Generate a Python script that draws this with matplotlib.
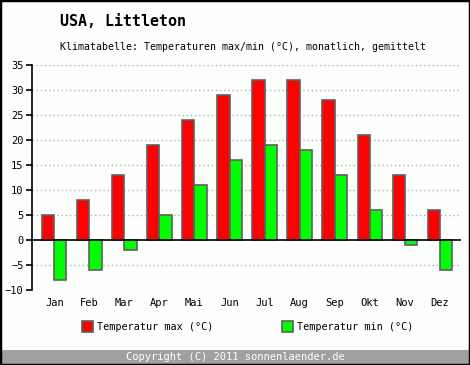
import numpy as np
import matplotlib.pyplot as plt
from matplotlib.patches import Rectangle

months = ['Jan', 'Feb', 'Mar', 'Apr', 'Mai', 'Jun', 'Jul', 'Aug', 'Sep', 'Okt', 'Nov', 'Dez']
temp_max = [5, 8, 13, 19, 24, 29, 32, 32, 28, 21, 13, 6]
temp_min = [-8, -6, -2, 5, 11, 16, 19, 18, 13, 6, -1, -6]
yticks = [-10, -5, 0, 5, 10, 15, 20, 25, 30, 35]

W, H = 470, 365
bg = '#fcfefc'
mono = 'DejaVu Sans Mono'

fig = plt.figure(figsize=(W / 100, H / 100), dpi=100, facecolor=bg)
ax = fig.add_axes([32 / W, 75 / H, (461 - 32) / W, 225 / H])
ax.set_facecolor(bg)

x = np.arange(len(months))
bw = 0.345
ax.bar(x - bw / 2, temp_max, bw, color='#ff0000', edgecolor='#606060', linewidth=1.2, zorder=3)
ax.bar(x + bw / 2, temp_min, bw, color='#00ff00', edgecolor='#606060', linewidth=1.2, zorder=3)

# dotted grid, not at 0 and not at the bottom
for yv in yticks:
    if yv not in (0, -10):
        ax.axhline(yv, color='#b0b0b0', linestyle=(0, (1, 2)), linewidth=1, zorder=1)
ax.axhline(0, color='black', linewidth=1.2, zorder=4)

ax.set_xlim(-0.64, 11.61)
ax.set_ylim(-10, 35)
ax.set_yticks(yticks)
ax.set_xticks(x)
ax.set_xticklabels(months)
for s in ['top', 'right', 'bottom']:
    ax.spines[s].set_visible(False)
ax.spines['left'].set_linewidth(1.2)
ax.tick_params(axis='y', length=4, width=1.2, pad=2, labelsize=7.5)
ax.tick_params(axis='x', length=0, pad=6, labelsize=7.5)
for lab in ax.get_xticklabels() + ax.get_yticklabels():
    lab.set_family(mono)

fig.text(60 / W, 1 - 21 / H, 'USA, Littleton', fontsize=10.8, fontweight='bold',
         family=mono, va='center', ha='left')
fig.text(60 / W, 1 - 47 / H, 'Klimatabelle: Temperaturen max/min (°C), monatlich, gemittelt',
         fontsize=7.1, family=mono, va='center', ha='left')

# legend
for x0, col, lab in [(82, '#ff0000', 'Temperatur max (°C)'), (282, '#00ff00', 'Temperatur min (°C)')]:
    fig.patches.append(Rectangle((x0 / W, 1 - 332 / H), 11 / W, 11 / H, transform=fig.transFigure,
                                 facecolor=col, edgecolor='#606060', linewidth=1.2))
    fig.text((x0 + 15) / W, 1 - 327 / H, lab, fontsize=7.3, family=mono, va='center', ha='left')

# footer
fig.patches.append(Rectangle((0, 1 / H), 1, 14 / H, transform=fig.transFigure,
                             facecolor='#a0a0a0', edgecolor='none'))
fig.text(0.5, 1 - 357 / H, 'Copyright (C) 2011 sonnenlaender.de', fontsize=7.5, family=mono,
         color='white', va='center', ha='center')

# border
fig.patches.append(Rectangle((0, 0), 1, 1, transform=fig.transFigure, fill=False,
                             edgecolor='black', linewidth=2.5))

fig.savefig('out.png', dpi=100, facecolor=bg)
